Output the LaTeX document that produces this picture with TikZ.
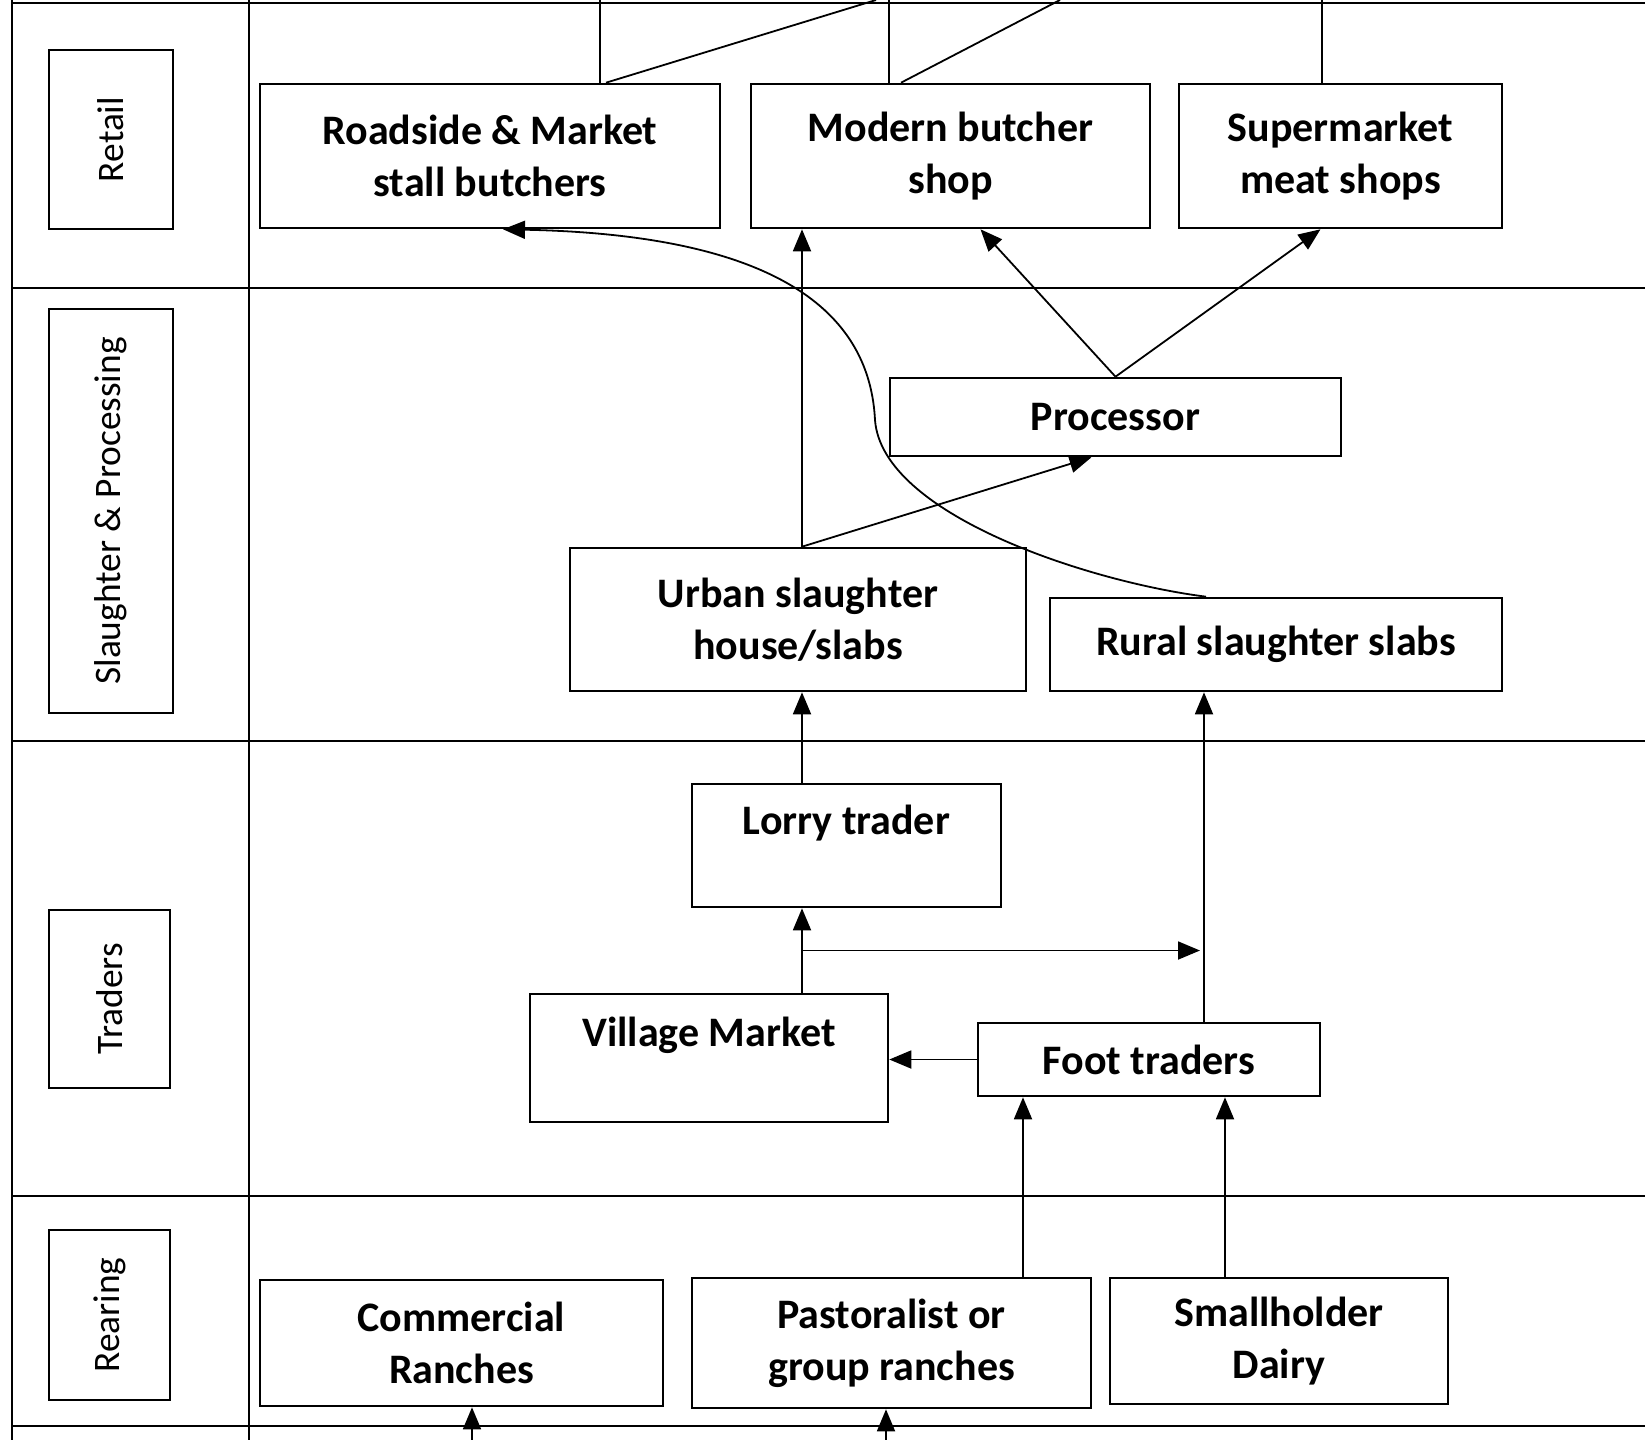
\documentclass[tikz,border=0pt]{standalone}
\usepackage{fontspec}
\setmainfont{Carlito}
\usetikzlibrary{arrows.meta,calc}
\tikzset{
  box/.style={draw,line width=1.3pt,inner sep=0pt,align=center,font=\fontsize{21}{26}\selectfont\bfseries},
  lanebox/.style={draw,line width=1.3pt,rotate=90,inner sep=0pt,font=\fontsize{18.7}{20}\selectfont},
  lane/.style={line width=1pt},
  feed/.style={line width=0.9pt},
  flow/.style={line width=0.9pt,-{Triangle[length=11pt,width=9pt]}}
}

\begin{document}
\begin{tikzpicture}[x=0.5pt,y=-0.5pt]
\useasboundingbox (0,0) rectangle (1645,1440);
% lanes
\foreach \y in {3,288,741,1196,1426}{\draw[lane] (12,\y) -- (1645,\y);}
\draw[lane] (12,0) -- (12,1440);
\draw[lane] (249,0) -- (249,1440);
\node[lanebox,minimum width=89.5pt,minimum height=62pt] (lretail) at (111,139.5) {Retail};
\node[lanebox,minimum width=202pt,minimum height=62pt] (lslaughter) at (111,511) {Slaughter \& Processing};
\node[lanebox,minimum width=89pt,minimum height=60.5pt] (ltraders) at (109.5,999) {Traders};
\node[lanebox,minimum width=85pt,minimum height=60.5pt] (lrearing) at (109.5,1315) {Rearing};

% retail
\node[box,minimum width=230pt,minimum height=72pt] (roadside) at (490,156) {Roadside \& Market\\stall butchers};
\node[box,minimum width=199.5pt,minimum height=72pt] (modern) at (950.5,156) {Modern butcher\\shop};
\node[box,minimum width=161.5pt,minimum height=72pt] (superm) at (1340.5,156) {Supermarket\\meat shops};

% slaughter & processing
\node[box,minimum width=225.5pt,minimum height=39pt] (proc) at (1115.5,417) {Processor};
\node[box,minimum width=228pt,minimum height=71.5pt] (urban) at (798,619.5) {Urban slaughter\\house/slabs};
\node[box,minimum width=226pt,minimum height=46.5pt] (rural) at (1276,644.5) {Rural slaughter slabs};

% traders
\node[box,minimum width=154.5pt,minimum height=61.5pt] (lorry) at (846.5,845.5) {Lorry trader\\~};
\node[box,minimum width=179pt,minimum height=64pt] (village) at (709,1058) {Village Market\\~};
\node[box,minimum width=171pt,minimum height=36.5pt] (foot) at (1149,1059.5) {Foot traders};

% rearing
\node[box,minimum width=201.5pt,minimum height=63pt] (comm) at (461.5,1343) {Commercial\\Ranches};
\node[box,minimum width=199.5pt,minimum height=65pt] (pastor) at (891.5,1343) {Pastoralist or\\group ranches};
\node[box,minimum width=169pt,minimum height=63pt] (small) at (1279,1341) {Smallholder\\Dairy};

% helper columns
\coordinate (ux) at (802,0);
\coordinate (fx) at (1204,0);
\coordinate (px) at (1023,0);
\coordinate (sx) at (1225,0);
\coordinate (t1) at (600,0);
\coordinate (t2) at (876,0);
\coordinate (t3) at (889,0);
\coordinate (t4) at (1060,0);
\coordinate (t5) at (1322,0);
\coordinate (in1) at (472,1440);
\coordinate (in2) at (886,1440);

% lines from the page above
\draw[feed] (t1) -- (t1 |- roadside.north);
\draw[feed] ([xshift=3pt]t1 |- roadside.north) -- (t2);
\draw[feed] (t3) -- (t3 |- modern.north);
\draw[feed] ([xshift=6pt]t3 |- modern.north) -- (t4);
\draw[feed] (t5) -- (t5 |- superm.north);

% flows
\draw[flow] (urban.north -| ux) -- (modern.south -| ux);
\draw[flow] (urban.north -| ux) -- ([xshift=-12pt]proc.south);
\draw[flow] (proc.north) -- ([xshift=15pt]modern.south);
\draw[flow] (proc.north) -- ([xshift=-10pt]superm.south);
\draw[flow] ([xshift=-35pt]rural.north) .. controls (1090,582) and (882,515) .. (875,420)
  .. controls (870,320) and (790,235) .. ([xshift=6.5pt]roadside.south);
\draw[flow] (lorry.north -| ux) -- (urban.south -| ux);
\draw[flow] (foot.north -| fx) -- (rural.south -| fx);
\draw[flow] (village.north -| ux) -- (lorry.south -| ux);
\coordinate (split) at ($(lorry.south -| ux)!0.5!(village.north -| ux)$);
\draw[flow] (split) -- ([xshift=-2pt]split -| fx);
\draw[flow] (foot.west) -- (foot.west -| village.east);
\draw[flow] (pastor.north -| px) -- (foot.south -| px);
\draw[flow] (small.north -| sx) -- (foot.south -| sx);
\draw[flow] (in1) -- (in1 |- comm.south);
\draw[flow] (in2) -- (in2 |- pastor.south);
\end{tikzpicture}
\end{document}
